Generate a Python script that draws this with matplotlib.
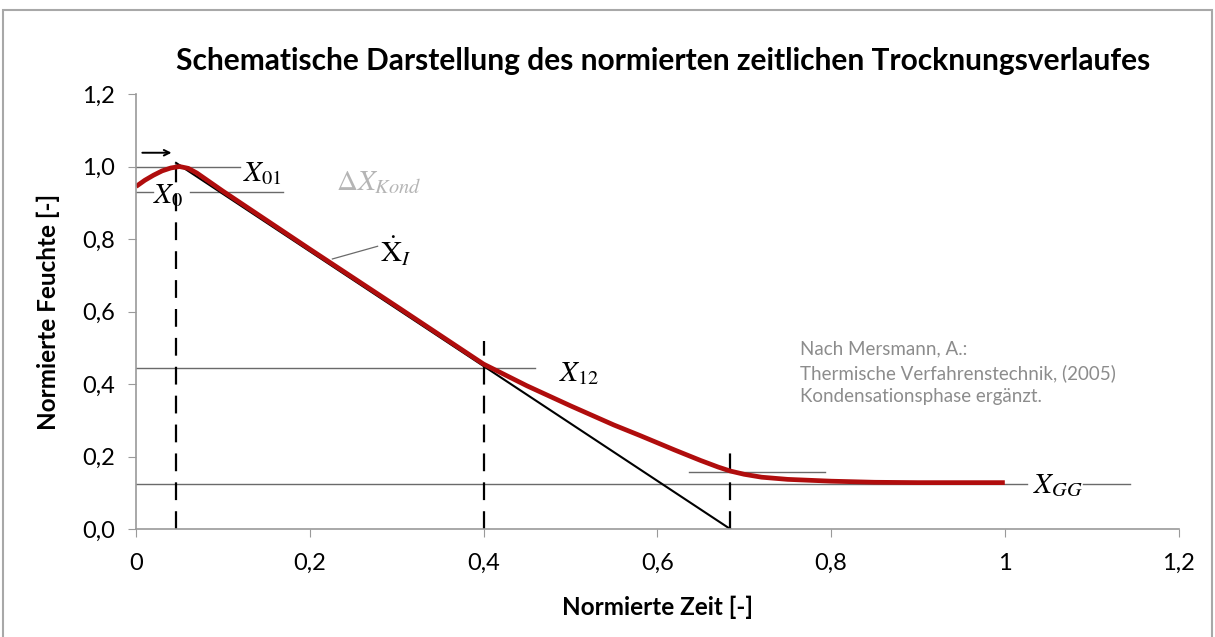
import matplotlib.pyplot as plt
from matplotlib.patches import Rectangle

# normierter Trocknungsverlauf (rote Kurve)
zeit = [0, 0.01, 0.02, 0.03, 0.04, 0.05, 0.06, 0.07, 0.1, 0.2, 0.3, 0.4,
        0.45, 0.5, 0.55, 0.58, 0.6, 0.62, 0.65, 0.67, 0.684, 0.7, 0.72,
        0.75, 0.8, 0.85, 0.9, 0.95, 1.0]
feuchte = [0.945, 0.962, 0.976, 0.988, 0.996, 1.0, 0.995, 0.982, 0.932,
           0.772, 0.614, 0.455, 0.395, 0.34, 0.287, 0.258, 0.238, 0.218,
           0.189, 0.171, 0.16, 0.151, 0.143, 0.137, 0.132, 0.129, 0.128,
           0.128, 0.128]

# Tangente (1. Trocknungsabschnitt)
tangente_x = [0.046, 0.684]
tangente_y = [1.01, 0.0]

# Kennwerte
X01 = 1.0
X0 = 0.93
X12 = 0.445
XGG = 0.125
X23 = 0.156
t0, t12, t2 = 0.046, 0.4, 0.684

x_ticks = [0, 0.2, 0.4, 0.6, 0.8, 1.0, 1.2]
x_ticklabels = ['0', '0,2', '0,4', '0,6', '0,8', '1', '1,2']
y_ticks = [0, 0.2, 0.4, 0.6, 0.8, 1.0, 1.2]
y_ticklabels = ['0,0', '0,2', '0,4', '0,6', '0,8', '1,0', '1,2']

plt.rcParams['font.family'] = ['Lato', 'DejaVu Sans']
plt.rcParams['mathtext.fontset'] = 'stix'

fig = plt.figure(figsize=(12.15, 6.37), dpi=100)
ax = fig.add_axes([0.112, 0.1695, 0.858, 0.6829])

grau = '#8c8c8c'
linie = '#6a6a6a'

# Hilfslinien
ax.plot([-0.01, 0.12], [X01, X01], color=linie, lw=1)
ax.plot([0, 0.02], [X0, X0], color=linie, lw=1)
ax.plot([0.062, 0.169], [X0, X0], color=linie, lw=1)
ax.plot([0, 0.459], [X12, X12], color=linie, lw=1)
ax.plot([0, 1.025], [XGG, XGG], color=linie, lw=1)
ax.plot([1.09, 1.144], [XGG, XGG], color=linie, lw=1)
ax.plot([0.636, 0.793], [X23, X23], color=linie, lw=1)

# gestrichelte Senkrechte
ax.plot([t0, t0], [0, 1.02], color='black', lw=1.6, ls=(0, (8, 5)))
ax.plot([t12, t12], [0, 0.52], color='black', lw=1.6, ls=(0, (8, 5)))
ax.plot([t2, t2], [0, 0.21], color='black', lw=1.6, ls=(0, (8, 5)))

ax.plot(tangente_x, tangente_y, color='black', lw=1.5)
ax.plot(zeit, feuchte, color='#b00d0d', lw=3.4, solid_capstyle='butt',
        solid_joinstyle='round')

ax.annotate('', xy=(0.044, 1.038), xytext=(0.004, 1.038),
            arrowprops=dict(arrowstyle='->', color='black', lw=1.4))

# Ẋ_I Hinweislinie
ax.plot([0.226, 0.278], [0.745, 0.78], color=linie, lw=0.9)

ms = 21
ax.text(0.123, X01 - 0.02, r'$X_{01}$', fontsize=ms, va='center')
ax.text(0.020, X0 - 0.01, r'$X_0$', fontsize=ms, va='center')
ax.text(0.23, 0.955, r'$\Delta X_{Kond}$', fontsize=ms, va='center', color='#b5b5b5')
ax.text(0.281, 0.765, r'$\dot{\mathrm{X}}_I$', fontsize=ms, va='center')
ax.text(0.487, 0.43, r'$X_{12}$', fontsize=ms, va='center')
ax.text(1.033, XGG - 0.005, r'$X_{GG}$', fontsize=ms, va='center')

ax.text(0.764, 0.52, 'Nach Mersmann, A.:\nThermische Verfahrenstechnik, (2005)\nKondensationsphase ergänzt.',
        fontsize=13.5, color=grau, va='top', linespacing=1.45)

ax.set_xlim(0, 1.2)
ax.set_ylim(0, 1.2)
ax.set_xticks(x_ticks)
ax.set_xticklabels(x_ticklabels)
ax.set_yticks(y_ticks)
ax.set_yticklabels(y_ticklabels)
ax.tick_params(axis='both', colors='#9a9a9a', labelcolor='black', labelsize=17, length=6)
ax.tick_params(axis='x', pad=11)
ax.tick_params(axis='y', pad=9)
for s in ['top', 'right']:
    ax.spines[s].set_visible(False)
for s in ['left', 'bottom']:
    ax.spines[s].set_color('#9a9a9a')
    ax.spines[s].set_linewidth(1.2)

ax.set_xlabel('Normierte Zeit [-]', fontsize=17.5, fontweight='bold', labelpad=16)
ax.set_ylabel('Normierte Feuchte [-]', fontsize=17.5, fontweight='bold', labelpad=16)
fig.text(0.546, 0.905, 'Schematische Darstellung des normierten zeitlichen Trocknungsverlaufes',
         fontsize=21.5, fontweight='bold', ha='center', va='center')

fig.patches.append(Rectangle((0.0025, -0.01), 0.995, 0.994, transform=fig.transFigure,
                             fill=False, edgecolor='#a8a8a8', lw=1.5))

plt.savefig('out.png', dpi=100)
